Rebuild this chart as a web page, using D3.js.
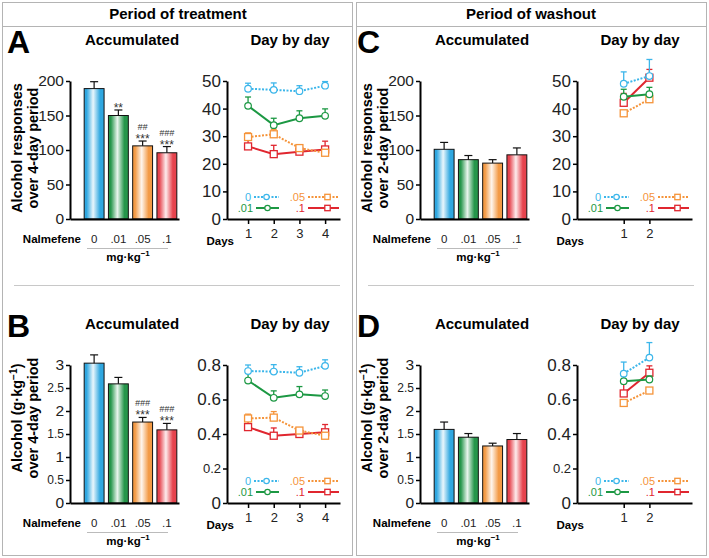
<!DOCTYPE html>
<html><head><meta charset="utf-8">
<script src="https://cdn.jsdelivr.net/npm/d3@7"></script>
<style>
body{margin:0;background:#fff;}
svg{font-family:"Liberation Sans",Arial,sans-serif;}
</style></head><body>
<svg id="fig" width="709" height="558"></svg>
<script>
// dose groups (mg/kg nalmefene)
var doses = ["0", ".01", ".05", ".1"];
var lineColors = ["#3cb6ea", "#1c9843", "#f5943a", "#e0262f"];
var barColors = ["#2fa7e0", "#26964b", "#f39a45", "#e6434d"];
var dotted = [true, false, true, false];
var shapes = ["circle", "circle", "square", "square"];

// A: responses, treatment
var accA = [189, 150, 106, 96];
var accAErr = [10, 8, 7, 9];
var hashA = ["", "", "##", "###"];
var starA = ["", "**", "***", "***"];
var daysA = [1, 2, 3, 4];
var dayA = [[47.2, 46.8, 46.3, 48.3], [41, 34, 36.5, 37.4], [29.7, 30.7, 25.7, 24], [26.3, 23.5, 24.4, 25.2]];
var dayAErr = [[2, 2.5, 2, 1.5], [3.2, 2.5, 2.7, 2.5], [1.5, 1.8, 0.8, 0.5], [2.5, 3.2, 1, 3]];

// B: g/kg, treatment
var accB = [3.04, 2.59, 1.76, 1.59];
var accBErr = [0.18, 0.14, 0.1, 0.14];
var hashB = ["", "", "###", "###"];
var starB = ["", "", "***", "***"];
var dayB = [[0.765, 0.762, 0.755, 0.795], [0.71, 0.61, 0.63, 0.62], [0.49, 0.495, 0.42, 0.39], [0.44, 0.39, 0.4, 0.41]];
var dayBErr = [[0.035, 0.04, 0.035, 0.035], [0.045, 0.04, 0.045, 0.035], [0.025, 0.035, 0.015, 0.01], [0.035, 0.045, 0.02, 0.045]];

// C: responses, washout
var accC = [101, 86, 81, 93];
var accCErr = [10, 6, 5, 10];
var daysC = [1, 2];
var dayC = [[49, 51.8], [44.3, 45.2], [38.3, 43.4], [42.1, 51.2]];
var dayCErr = [[4.3, 6], [2.7, 2.5], [0.8, 1], [3.4, 3]];

// D: g/kg, washout
var accD = [1.6, 1.43, 1.24, 1.38];
var accDErr = [0.16, 0.08, 0.06, 0.13];
var dayD = [[0.75, 0.843], [0.706, 0.716], [0.58, 0.652], [0.635, 0.755]];
var dayDErr = [[0.067, 0.087], [0.045, 0.02], [0.01, 0.01], [0.065, 0.04]];

var tickResp = [0, 50, 100, 150, 200];
var tickDayResp = [0, 10, 20, 30, 40, 50];
var tickG = [0, 0.5, 1, 1.5, 2, 2.5, 3];
var tickDayG = [0, 0.2, 0.4, 0.6, 0.8];

var svg = d3.select("#fig");

// gradients for bars
var defs = svg.append("defs");
barColors.forEach(function(c, i) {
  var g = defs.append("linearGradient").attr("id", "grad" + i)
    .attr("x1", "0%").attr("x2", "100%").attr("y1", "0%").attr("y2", "0%");
  var light = d3.interpolateRgb(c, "#ffffff")(0.9);
  g.append("stop").attr("offset", "0%").attr("stop-color", c);
  g.append("stop").attr("offset", "12%").attr("stop-color", c);
  g.append("stop").attr("offset", "45%").attr("stop-color", light);
  g.append("stop").attr("offset", "80%").attr("stop-color", c);
  g.append("stop").attr("offset", "100%").attr("stop-color", c);
});

// frames
svg.append("rect").attr("x", 2.5).attr("y", 2.5).attr("width", 350).attr("height", 553)
  .style("fill", "none").style("stroke", "#b4b4b4");
svg.append("rect").attr("x", 356.5).attr("y", 2.5).attr("width", 350).attr("height", 553)
  .style("fill", "none").style("stroke", "#b4b4b4");
svg.append("line").attr("x1", 2.5).attr("x2", 352.5).attr("y1", 26.5).attr("y2", 26.5).style("stroke", "#b4b4b4");
svg.append("line").attr("x1", 356.5).attr("x2", 706.5).attr("y1", 26.5).attr("y2", 26.5).style("stroke", "#b4b4b4");
svg.append("line").attr("x1", 14).attr("x2", 340).attr("y1", 285.5).attr("y2", 285.5).style("stroke", "#c8c8c8");
svg.append("line").attr("x1", 368).attr("x2", 694).attr("y1", 285.5).attr("y2", 285.5).style("stroke", "#c8c8c8");

svg.append("text").attr("x", 178).attr("y", 19).attr("text-anchor", "middle")
  .style("font-weight", "bold").style("font-size", "15px").text("Period of treatment");
svg.append("text").attr("x", 531).attr("y", 19).attr("text-anchor", "middle")
  .style("font-weight", "bold").style("font-size", "15px").text("Period of washout");

function styleAxis(ax) {
  ax.select(".domain").style("stroke", "#000").style("stroke-width", 2);
  ax.selectAll(".tick line").style("stroke", "#000").style("stroke-width", 1.5);
  ax.selectAll(".tick text").style("fill", "#222");
}

function superLabel(t, before, after) {
  t.append("tspan").text(before);
  t.append("tspan").attr("dy", -5).style("font-size", "0.7em").text("\u22121");
  t.append("tspan").attr("dy", 5).text(after);
}

function drawMarker(s, k, cx, cy, r) {
  var c = lineColors[k];
  if (shapes[k] === "circle") {
    s.append("circle").attr("cx", cx).attr("cy", cy).attr("r", r)
      .style("fill", "#fff").style("stroke", c).style("stroke-width", 1.2);
  } else {
    s.append("rect").attr("x", cx - r).attr("y", cy - r).attr("width", 2 * r).attr("height", 2 * r)
      .style("fill", "#fff").style("stroke", c).style("stroke-width", 1.3);
  }
}

function drawPanel(p) {
  var g = svg.append("g").attr("transform", "translate(" + p.ox + "," + p.oy + ")");

  g.append("text").attr("x", 7).attr("y", 53).style("font-weight", "bold")
    .style("font-size", "32px").text(p.letter);
  g.append("text").attr("x", 132).attr("y", 45).attr("text-anchor", "middle")
    .style("font-weight", "bold").style("font-size", "15px").text("Accumulated");
  g.append("text").attr("x", 290).attr("y", 45).attr("text-anchor", "middle")
    .style("font-weight", "bold").style("font-size", "15px").text("Day by day");

  // y label
  var yl = g.append("g").attr("transform", "translate(22," + p.labY + ") rotate(-90)")
    .style("font-weight", "bold").style("font-size", "14.5px").attr("text-anchor", "middle");
  var l1 = yl.append("text").attr("x", 0).attr("y", 0);
  if (p.gram) superLabel(l1, "Alcohol (g\u00b7kg", ")");
  else l1.text("Alcohol responses");
  yl.append("text").attr("x", 0).attr("y", 16).text(p.ylab2);

  // ---- accumulated bars
  var y = d3.scaleLinear().domain([0, p.accMax]).range([219, 81]);
  var x = d3.scaleBand().domain(doses).range([82, 179]).paddingInner(0.18).paddingOuter(0.09);

  var bars = g.selectAll(".bar").data(p.acc).enter().append("g");
  bars.append("rect")
    .attr("x", function(d, i) { return x(doses[i]); })
    .attr("y", function(d) { return y(d); })
    .attr("width", x.bandwidth())
    .attr("height", function(d) { return y(0) - y(d); })
    .style("fill", function(d, i) { return "url(#grad" + i + ")"; })
    .style("stroke", "#111").style("stroke-width", 1);
  bars.append("line")
    .attr("x1", function(d, i) { return x(doses[i]) + x.bandwidth() / 2; })
    .attr("x2", function(d, i) { return x(doses[i]) + x.bandwidth() / 2; })
    .attr("y1", function(d) { return y(d); })
    .attr("y2", function(d, i) { return y(d + p.accErr[i]); })
    .style("stroke", "#111").style("stroke-width", 1.2);
  bars.append("line")
    .attr("x1", function(d, i) { return x(doses[i]) + x.bandwidth() / 2 - 4; })
    .attr("x2", function(d, i) { return x(doses[i]) + x.bandwidth() / 2 + 4; })
    .attr("y1", function(d, i) { return y(d + p.accErr[i]); })
    .attr("y2", function(d, i) { return y(d + p.accErr[i]); })
    .style("stroke", "#111").style("stroke-width", 1.2);
  if (p.stars) {
    bars.append("text")
      .attr("x", function(d, i) { return x(doses[i]) + x.bandwidth() / 2; })
      .attr("y", function(d, i) { return y(d + p.accErr[i]) + 2; })
      .attr("text-anchor", "middle").style("font-size", "12px").style("fill", "#333")
      .text(function(d, i) { return p.stars[i]; });
    bars.append("text")
      .attr("x", function(d, i) { return x(doses[i]) + x.bandwidth() / 2; })
      .attr("y", function(d, i) { return y(d + p.accErr[i]) - 11; })
      .attr("text-anchor", "middle").style("font-size", "9px").style("font-style", "italic")
      .style("fill", "#333")
      .text(function(d, i) { return p.hashes[i]; });
  }

  var ay = g.append("g").attr("transform", "translate(70,0)")
    .call(d3.axisLeft(y).tickValues(p.accTicks).tickSize(4).tickSizeOuter(0).tickPadding(2)
      .tickFormat(function(d) { return String(d); }));
  styleAxis(ay);
  ay.selectAll(".tick text").style("font-size", function(d) {
    return (p.gram && d % 1 !== 0) ? "12px" : "15.5px";
  });
  var baseX = d3.scaleLinear().range([70, 179]);
  var ax = g.append("g").attr("transform", "translate(0,219)")
    .call(d3.axisBottom(baseX).tickValues([]).tickSizeOuter(0));
  styleAxis(ax);

  g.append("text").attr("x", 81).attr("y", 243).attr("text-anchor", "end")
    .style("font-weight", "bold").style("font-size", "11.5px").text("Nalmefene");
  g.selectAll(".dose").data(doses).enter().append("text")
    .attr("x", function(d) { return x(d) + x.bandwidth() / 2; })
    .attr("y", 243).attr("text-anchor", "middle").style("font-size", "11.5px").style("fill", "#222")
    .text(function(d) { return d; });
  g.append("line").attr("x1", 87).attr("x2", 168).attr("y1", 248.5).attr("y2", 248.5)
    .style("stroke", "#bbb");
  var mg = g.append("text").attr("x", 128).attr("y", 261).attr("text-anchor", "middle")
    .style("font-weight", "bold").style("font-size", "11.5px");
  superLabel(mg, "mg\u00b7kg", "");

  // ---- day by day
  var xd = d3.scaleLinear().domain(p.dayDomain).range([227, p.dayEnd]);
  var yd = d3.scaleLinear().domain([0, p.dayMax]).range([219, 81]);

  var ayd = g.append("g").attr("transform", "translate(227,0)")
    .call(d3.axisLeft(yd).tickValues(p.dayTicks).tickSize(4).tickSizeOuter(0).tickPadding(2)
      .tickFormat(function(d) { return String(d); }));
  styleAxis(ayd);
  ayd.selectAll(".tick text").style("font-size", function(d) {
    return (p.gram && d > 0 && d < 0.3) ? "13px" : "17px";
  });
  var axd = g.append("g").attr("transform", "translate(0,219)")
    .call(d3.axisBottom(xd).tickValues(p.days).tickSize(5).tickSizeOuter(0).tickPadding(5)
      .tickFormat(d3.format("d")));
  styleAxis(axd);
  axd.selectAll(".tick text").style("font-size", "13px");
  g.append("text").attr("x", 234).attr("y", 245).attr("text-anchor", "end")
    .style("font-weight", "bold").style("font-size", "11.5px").text("Days");

  var line = d3.line().x(function(d, i) { return xd(p.days[i]); }).y(function(d) { return yd(d); });

  var order = [3, 2, 1, 0];
  order.forEach(function(k) {
    var s = g.append("g");
    var c = lineColors[k];
    p.day[k].forEach(function(v, i) {
      var xx = xd(p.days[i]), y1 = yd(v), y2 = yd(v + p.dayErr[k][i]);
      s.append("line").attr("x1", xx).attr("x2", xx).attr("y1", y1).attr("y2", y2)
        .style("stroke", c).style("stroke-width", 1.3);
      s.append("line").attr("x1", xx - 3).attr("x2", xx + 3).attr("y1", y2).attr("y2", y2)
        .style("stroke", c).style("stroke-width", 1.3);
    });
    s.append("path").attr("d", line(p.day[k])).style("fill", "none")
      .style("stroke", c).style("stroke-width", 2)
      .style("stroke-dasharray", dotted[k] ? "2,1.5" : null);
    p.day[k].forEach(function(v, i) {
      drawMarker(s, k, xd(p.days[i]), yd(v), k > 1 ? 3.5 : 3.3);
    });
  });

  // legend
  var leg = [
    {k: 0, tx: 251, ly: 197, x1: 254, x2: 279},
    {k: 1, tx: 253, ly: 208, x1: 256, x2: 279},
    {k: 2, tx: 305, ly: 197, x1: 308, x2: 339},
    {k: 3, tx: 305, ly: 208, x1: 308, x2: 339}
  ];
  leg.forEach(function(L) {
    var c = lineColors[L.k];
    g.append("text").attr("x", L.tx).attr("y", L.ly + 4).attr("text-anchor", "end")
      .style("font-size", "11px").style("fill", c).text(doses[L.k]);
    g.append("line").attr("x1", L.x1).attr("x2", L.x2).attr("y1", L.ly).attr("y2", L.ly)
      .style("stroke", c).style("stroke-width", 2)
      .style("stroke-dasharray", dotted[L.k] ? "2,1.5" : null);
    drawMarker(g, L.k, (L.x1 + L.x2) / 2 + (L.k > 1 ? 4 : 0), L.ly, 2.7);
  });
}

drawPanel({ox: 0, oy: 0, letter: "A", gram: false, ylab2: "over 4-day period", labY: 148,
  acc: accA, accErr: accAErr, stars: starA, hashes: hashA, accMax: 200, accTicks: tickResp,
  day: dayA, dayErr: dayAErr, days: daysA, dayDomain: [0.18, 4.58], dayEnd: 340,
  dayMax: 50, dayTicks: tickDayResp});
drawPanel({ox: 0, oy: 284, letter: "B", gram: true, ylab2: "over 4-day period", labY: 134,
  acc: accB, accErr: accBErr, stars: starB, hashes: hashB, accMax: 3, accTicks: tickG,
  day: dayB, dayErr: dayBErr, days: daysA, dayDomain: [0.18, 4.58], dayEnd: 340,
  dayMax: 0.8, dayTicks: tickDayG});
drawPanel({ox: 350, oy: 0, letter: "C", gram: false, ylab2: "over 2-day period", labY: 148,
  acc: accC, accErr: accCErr, stars: null, hashes: null, accMax: 200, accTicks: tickResp,
  day: dayC, dayErr: dayCErr, days: daysC, dayDomain: [-0.82, 3.66], dayEnd: 342,
  dayMax: 50, dayTicks: tickDayResp});
drawPanel({ox: 350, oy: 284, letter: "D", gram: true, ylab2: "over 2-day period", labY: 134,
  acc: accD, accErr: accDErr, stars: null, hashes: null, accMax: 3, accTicks: tickG,
  day: dayD, dayErr: dayDErr, days: daysC, dayDomain: [-0.82, 3.66], dayEnd: 342,
  dayMax: 0.8, dayTicks: tickDayG});
</script>
</body></html>
